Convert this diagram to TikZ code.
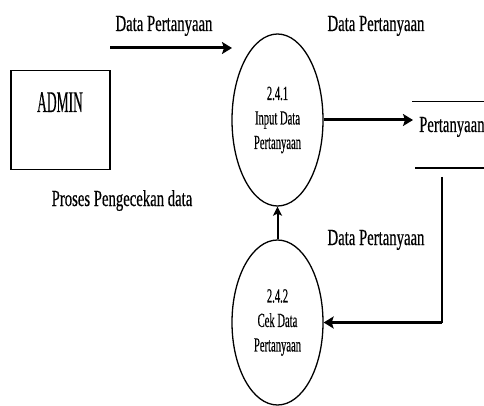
\documentclass[tikz,border=0pt]{standalone}
\usepackage{fontspec}
\setmainfont{Liberation Serif}
\newfontfamily\lblfont[FakeStretch=0.64,FakeBold=0.4]{Liberation Serif}
\newfontfamily\procfont[FakeStretch=0.53,FakeBold=0.4]{Liberation Serif}
\newfontfamily\entfont[FakeStretch=0.45,FakeBold=0.4]{Liberation Serif}
\usetikzlibrary{arrows.meta,shapes.geometric}
\tikzset{
  lbl/.style={font=\lblfont\fontsize{23}{24}\selectfont, inner sep=0pt, anchor=base},
  proc/.style={draw, ellipse, line width=1.3pt, minimum width=91pt, inner sep=0pt,
    align=center, font=\procfont\fontsize{20}{24.5}\selectfont},
  entity/.style={draw, line width=1.3pt, minimum width=99pt, minimum height=99pt, inner sep=0pt},
  flow/.style={line width=3pt, -{Stealth[length=10pt,width=12pt,inset=2pt]}},
  flowthin/.style={line width=2pt, -{Stealth[length=9pt,width=9pt,inset=2pt]}},
  storeline/.style={line width=1.8pt}
}
\begin{document}
\begin{tikzpicture}[x=1pt,y=-1pt]
\useasboundingbox (0,0) rectangle (484,406);
% entity
\node[entity] (admin) at (60.5,120) {};
\node[font=\entfont\fontsize{30}{32}\selectfont, inner sep=0pt, anchor=base] (adminlbl) at (60,112) {ADMIN};
% processes
\node[proc, minimum height=172pt] (p1) at (277.5,120) {2.4.1\\Input Data\\Pertanyaan};
\node[proc, minimum height=165pt] (p2) at (277.5,322.5) {2.4.2\\Cek Data\\Pertanyaan};
% data store
\draw[storeline] (412,101.5) -- (484,101.5);
\draw[storeline] (415,168) -- (484,168);
\node[lbl, anchor=base west] (ds) at (419,132) {Pertanyaan};
\coordinate (dsin) at (413,120);
\coordinate (dsout) at (441.5,177);
% free flow start/end
\coordinate (fs) at (110,48);
\coordinate (fe) at (232,48);
% labels
\node[lbl] (l1) at (164,31) {Data Pertanyaan};
\node[lbl] (l2) at (376,31) {Data Pertanyaan};
\node[lbl] (l3) at (376,245) {Data Pertanyaan};
\node[lbl] (l4) at (122,206) {Proses Pengecekan data};
% flows
\draw[flow] (fs) -- (fe);
\draw[flow] (p1.east) -- (dsin);
\draw[line width=2pt] (dsout) -- (dsout |- p2.east);
\draw[flow] (dsout |- p2.east) -- (p2.east);
\draw[flowthin] (p2.north) -- (p1.south);
\end{tikzpicture}
\end{document}
